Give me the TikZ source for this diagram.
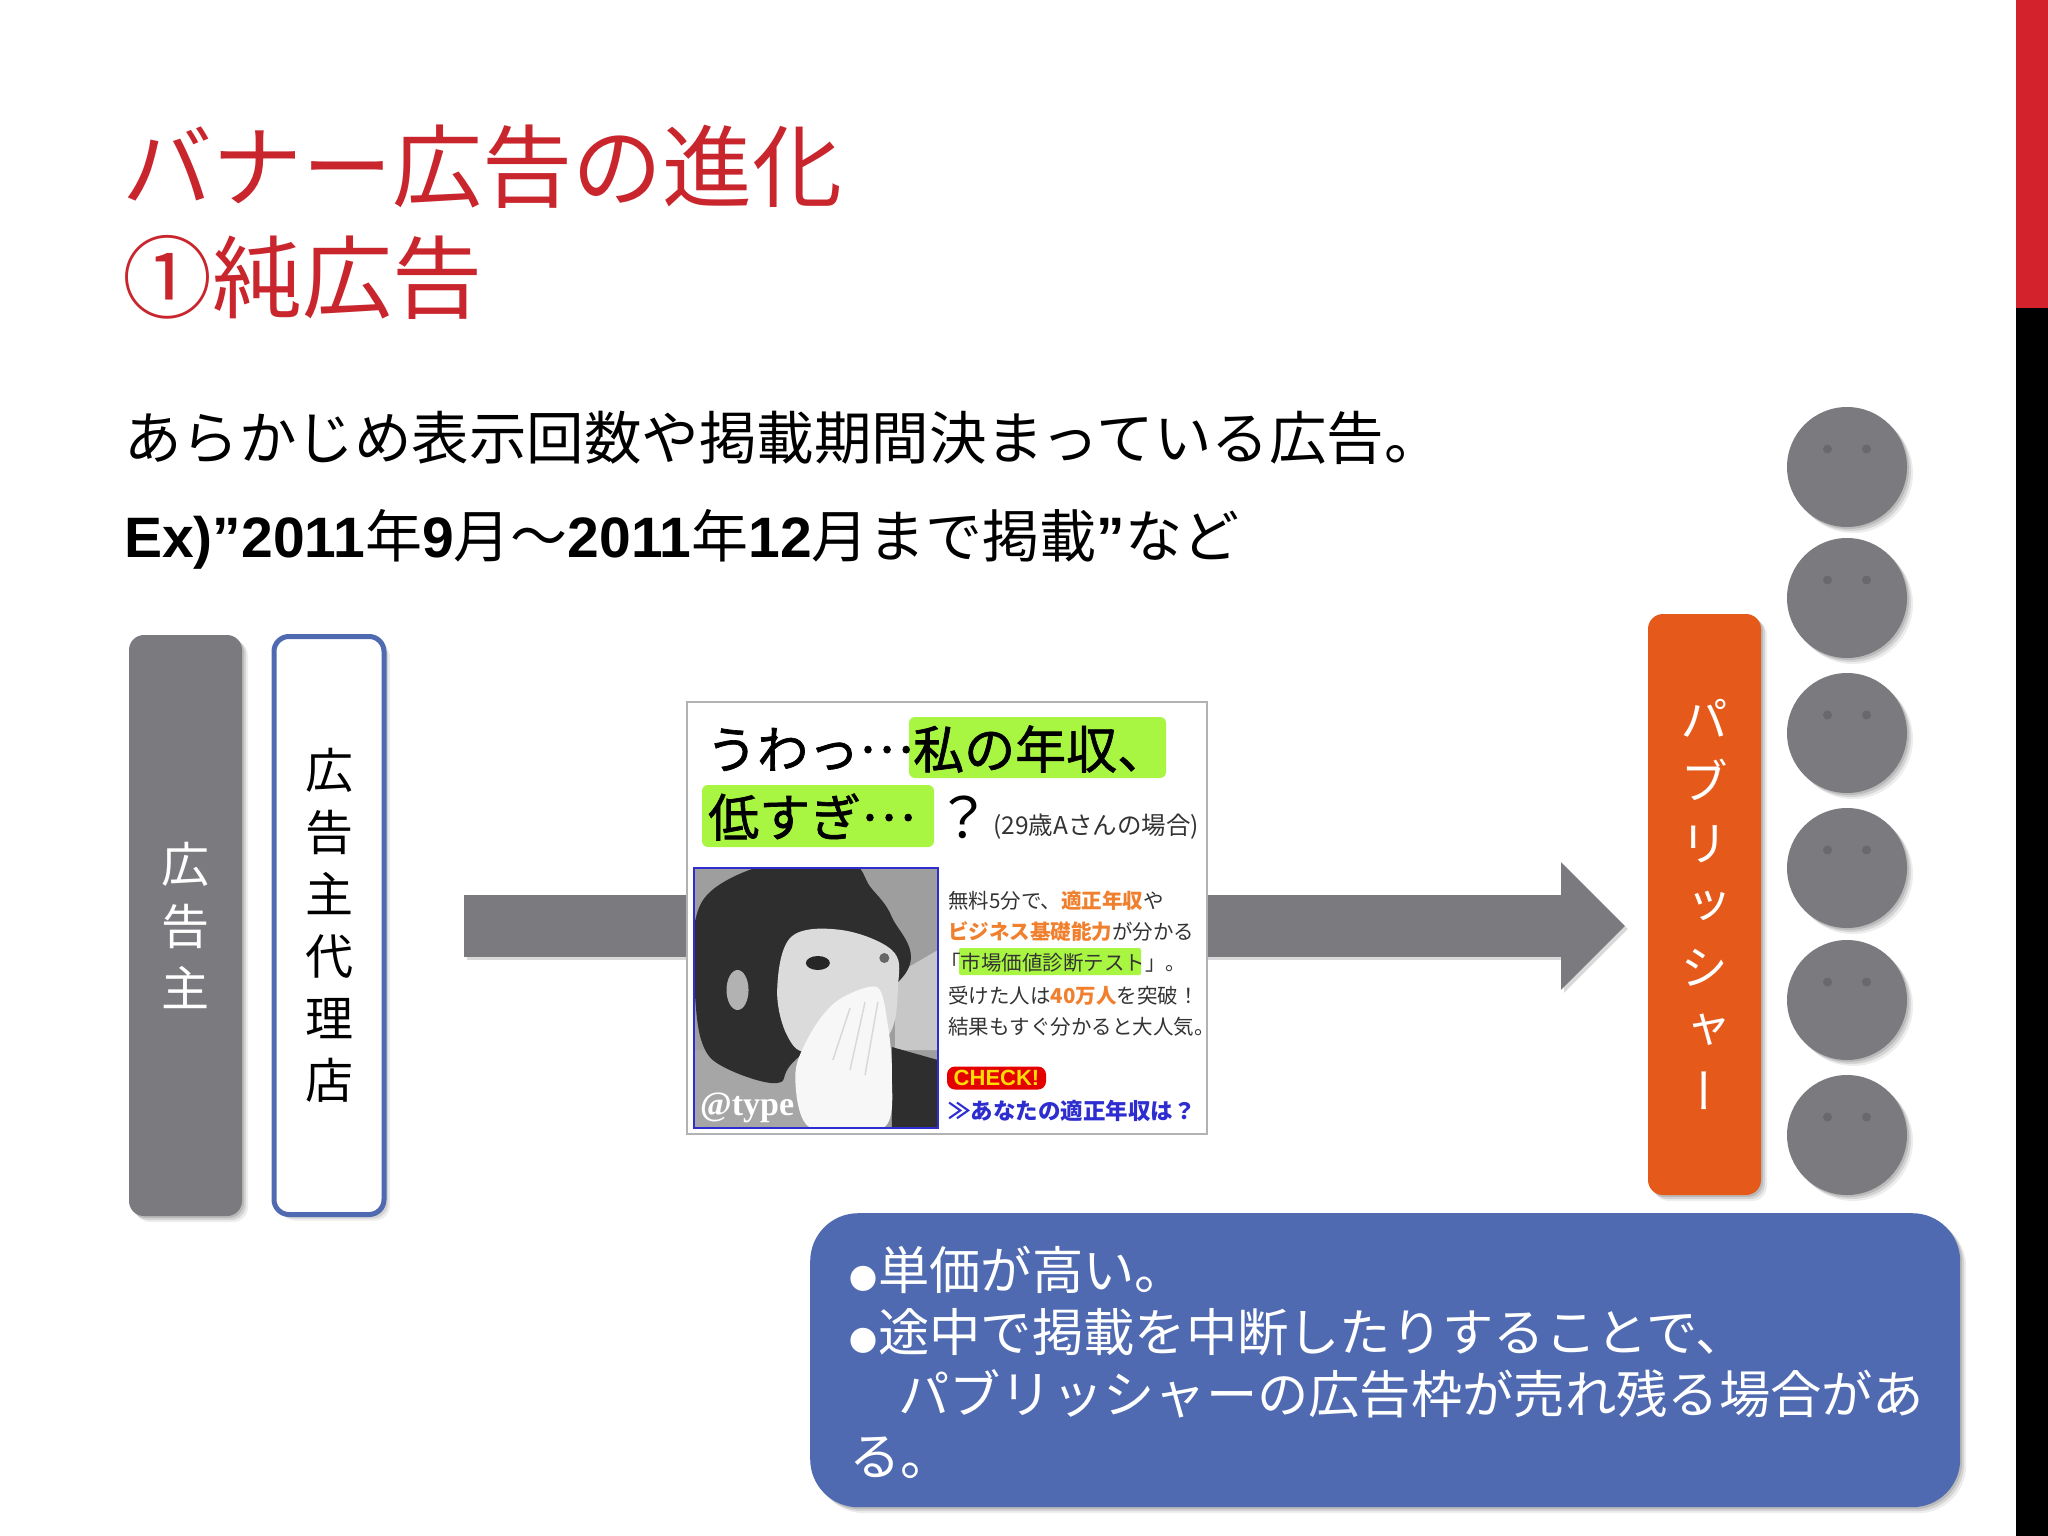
\documentclass[tikz,border=0pt]{standalone}
\usepackage{fontspec}
\setmainfont{Liberation Sans}
\newfontfamily\jpfont{Noto Sans CJK JP}
\newfontfamily\jpmedium[FakeBold=1.3]{Noto Sans CJK JP}
\newfontfamily\jpvert[RawFeature=+vert]{Noto Sans CJK JP}
\newfontfamily\logofont{Liberation Serif}
\usetikzlibrary{shadows,arrows.meta,calc}
\definecolor{slidered}{HTML}{C9252D}
\definecolor{barred}{HTML}{D3222C}
\definecolor{flatgray}{HTML}{7B7A7E}
\definecolor{eyegray}{HTML}{69686C}
\definecolor{agencyblue}{HTML}{4F6AB0}
\definecolor{puborange}{HTML}{E55A1A}
\definecolor{lime}{HTML}{A8F542}
\definecolor{adorange}{HTML}{F0802E}
\definecolor{adblue}{HTML}{2E2ED0}
\newcommand{\jt}[1]{{\jpfont\mdseries #1}}
\newcommand{\middots}{\raisebox{16pt}{…}}

\begin{document}
\begin{tikzpicture}[x=1pt,y=-1pt,
    softshadow/.style={
        drop shadow={shadow xshift=2pt, shadow yshift=-2pt, opacity=.12, fill=black},
        drop shadow={shadow xshift=4pt, shadow yshift=-4pt, opacity=.1, fill=black},
        drop shadow={shadow xshift=6pt, shadow yshift=-6pt, opacity=.07, fill=black}},
    titletext/.style={anchor=west, inner sep=0, text=slidered, font=\jpfont\fontsize{90}{90}\selectfont},
    bodytext/.style={anchor=west, inner sep=0, font=\fontsize{57}{57}\selectfont},
    pillar/.style={rounded corners=15pt, minimum width=113pt, minimum height=581pt, inner sep=0, align=center, softshadow},
    face/.style={circle, fill=flatgray, minimum size=120pt, inner sep=0, softshadow},
    eye/.style={circle, fill=eyegray, minimum size=9pt, inner sep=0},
    adline/.style={anchor=west, inner sep=0, text=black!80, font=\jpfont\fontsize{20.5}{20.5}\selectfont},
    adhead/.style={anchor=west, inner sep=0, font=\jpmedium\fontsize{51}{51}\selectfont},
    flow/.style={draw=flatgray, line width=62pt, -{Triangle[length=64pt,width=124pt]}}
]
    \useasboundingbox (0,0) rectangle (2048,1536);
    \fill[white] (0,0) rectangle (2048,1536);

    % side bar
    \fill[barred] (2016,0) rectangle (2048,308);
    \fill[black] (2016,308) rectangle (2048,1536);

    % title and text
    \node[titletext] (title1) at (122,167) {バナー広告の進化};
    \node[titletext] (title2) at (122,277) {①純広告};
    \node[bodytext, font=\jpfont\fontsize{57.5}{57.5}\selectfont] (body1) at (124,438) {あらかじめ表示回数や掲載期間決まっている広告。};
    \node[bodytext] (body2) at (124,539) {\bfseries Ex)”2011\jt{年}9\jt{月〜}2011\jt{年}12\jt{月まで掲載}”\jt{など}};

    % left boxes
    \node[pillar, fill=flatgray, text=white, font=\jpfont\fontsize{48}{62}\selectfont] (advertiser) at (185.5,925.5) {広\\告\\主};
    \node[pillar, fill=white, draw=agencyblue, line width=5pt, minimum width=110pt, minimum height=578pt, font=\jpfont\fontsize{48}{62}\selectfont] (agency) at (329,925.5) {広\\告\\主\\代\\理\\店};

    % arrow
    \coordinate (flowstart) at (464,926);
    \coordinate (flowend) at (1625,926);
    \draw[flow, draw=black, opacity=.15, transform canvas={shift={(3pt,-3pt)}}] (flowstart) -- (flowend);
    \draw[flow] (flowstart) -- (flowend);

    % publisher and readers
    \node[pillar, fill=puborange, text=white, font=\jpvert\fontsize{48}{62}\selectfont] (publisher) at (1704.5,904.5) {パ\\ブ\\リ\\ッ\\シ\\ャ\\ー};
    \foreach \y/\n in {467/1,598/2,733/3,868/4,1000/5,1135/6}{
        \node[face] (reader\n) at (1847,\y) {};
        \node[eye] (eyeL\n) at ($(reader\n)+(-19.5,-18)$) {};
        \node[eye] (eyeR\n) at ($(reader\n)+(19.5,-18)$) {};
    }

    % banner
    \node[draw=black!30, fill=white, line width=1.2pt, minimum width=520pt, minimum height=432pt, inner sep=0] (banner) at (947,918) {};
    \fill[lime, rounded corners=6pt] (909,717) rectangle (1166,778);
    \fill[lime, rounded corners=6pt] (702,785) rectangle (934,847);
    \fill[lime, rounded corners=2pt] (959,948) rectangle (1141,975);
    \node[adhead] (head1) at (706,749) {うわっ\middots 私の年収、};
    \node[adhead] (head2) at (708,817) {低すぎ\middots};
    \node[adhead, font=\jpfont\fontsize{56}{56}\selectfont] (head3) at (935,817) {？};
    \node[adline, font=\jpfont\fontsize{24.5}{25}\selectfont] (age) at (993,827) {(29歳Aさんの場合)};
    \node[adline] (ad1) at (948,901) {無料5分で、\textcolor{adorange}{\bfseries 適正年収}や};
    \node[adline] (ad2) at (948,932) {\textcolor{adorange}{\bfseries ビジネス基礎能力}が分かる};
    \node[adline] (ad3) at (940,963) {「市場価値診断テスト」。};
    \node[adline] (ad4) at (948,996) {受けた人は\textcolor{adorange}{\bfseries 40万人}を突破！};
    \node[adline] (ad5) at (948,1027) {結果もすぐ分かると大人気。};
    \node[anchor=center, fill=red!90!black, rounded corners=8pt, minimum width=99pt, minimum height=23pt, inner sep=0, text=yellow!80!orange, font=\bfseries\fontsize{22}{22}\selectfont] (check) at (996.5,1078) {CHECK!};
    \node[adline, text=adblue, font=\jpfont\bfseries\fontsize{22.5}{22.5}\selectfont] (adlink) at (948,1111) {≫あなたの適正年収は？};

    % photo
    \begin{scope}[x=1.0714pt, xshift=-47.8pt]
        \clip (692,868) rectangle (920,1128);
        \fill[black!38] (692,868) rectangle (920,1128);
        \fill[black!22] (880,975) -- (920,950) -- (920,1050) -- (880,1050) -- cycle;
        \fill[black!35] (692,1050) rectangle (800,1128);
        \fill[black!82] plot[smooth cycle, tension=.6] coordinates {(693,923) (693,990) (700,1043) (720,1067) (770,1083) (790,1057) (890,973) (877,917) (857,887) (837,862) (770,862) (713,887)};
        \fill[black!82] (877,1047) -- (920,1060) -- (920,1128) -- (877,1128) -- cycle;
        \fill[black!14] plot[smooth cycle, tension=.6] coordinates {(783,937) (830,930) (877,950) (883,983) (870,1040) (803,1053) (780,1037) (770,990)};
        \fill[black!30] (733,990) ellipse (11pt and 20pt);
        \fill[black!85] (808,963) ellipse (12pt and 7pt);
        \fill[black!60] (870,958) ellipse (5pt and 5pt);
        \fill[black!3] plot[smooth cycle, tension=.5] coordinates {(800,1127) (787,1073) (803,1030) (827,1000) (863,987) (873,1023) (877,1073) (870,1127)};
        \draw[black!15, line width=1.5pt] (822,1060) -- (838,1008) (838,1070) -- (852,1002) (852,1075) -- (864,1002);
    \end{scope}
    \draw[adblue, line width=1.2pt] (694,868) rectangle (938,1128);
    \node[anchor=west, inner sep=0, text=white, font=\logofont\bfseries\fontsize{34}{34}\selectfont] (logo) at (700,1108) {@type};

    % note
    \node[anchor=north west, fill=agencyblue, rounded corners=48pt, minimum width=1150pt, minimum height=294pt, inner sep=0, softshadow] (note) at (810,1213) {};
    \node[anchor=west, inner sep=0, text=white, align=left, font=\jpfont\fontsize{51.3}{62}\selectfont] (notetext) at (849,1362) {%
        \makebox[29pt][l]{\fontsize{28}{28}\selectfont ●}単価が高い。\\
        \makebox[29pt][l]{\fontsize{28}{28}\selectfont ●}途中で掲載を中断したりすることで、\\
        \hspace*{49pt}パブリッシャーの広告枠が売れ残る場合があ\\
        る。};
\end{tikzpicture}
\end{document}
